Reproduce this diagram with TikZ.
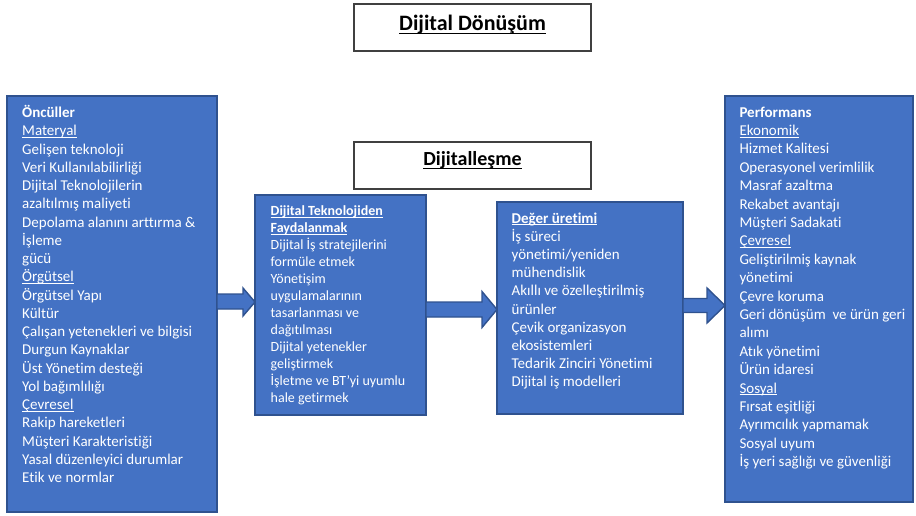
\documentclass[tikz,border=0pt]{standalone}
\usepackage{fontspec}
\setmainfont{Carlito}[Ligatures=NoCommon]
\newsavebox\ulbox
\newcommand\myul[1]{\sbox\ulbox{#1}\rlap{\rule[-0.13em]{\wd\ulbox}{0.055em}}\usebox\ulbox}
\definecolor{boxblue}{HTML}{4472C4}
\definecolor{boxline}{HTML}{2F528F}
\begin{document}
\begin{tikzpicture}[x=1pt,y=-1pt,
  bluebox/.style={draw=boxline,fill=boxblue,line width=1.6pt,outer sep=0pt,inner sep=0pt,anchor=north west},
  titlebox/.style={draw=black!75,fill=white,line width=1.1pt,outer sep=0pt,inner sep=0pt,anchor=north west},
  boxtext/.style={anchor=base west,inner sep=0pt,align=left,text=white},
  titletext/.style={anchor=base,inner sep=0pt,font=\bfseries},
  blockarrow/.style={draw=boxline,fill=boxblue,line width=1.4pt,line join=miter}]
\useasboundingbox (0,0) rectangle (916,516);

% title boxes
\node[titlebox,minimum width=237pt,minimum height=47pt] (ddbox) at (354,4) {};
\node[titletext,font=\fontsize{22}{26}\selectfont\bfseries] (ddtext) at (472.5,31) {\myul{Dijital Dönüşüm}};
\node[titlebox,minimum width=237pt,minimum height=47pt] (dlbox) at (354,142) {};
\node[titletext,font=\fontsize{20}{24}\selectfont\bfseries] (dltext) at (472.5,166) {\myul{Dijitalleşme}};

% blue boxes
\node[bluebox,minimum width=210pt,minimum height=416pt] (pre) at (7,96) {};
\node[bluebox,minimum width=171pt,minimum height=220pt] (fa) at (255,195) {};
\node[bluebox,minimum width=186pt,minimum height=212pt] (dv) at (497,202) {};
\node[bluebox,minimum width=188pt,minimum height=406pt] (perf) at (725,96) {};

% texts (anchored at the baseline of the last line)
\node[boxtext,font=\fontsize{15}{18.26}\selectfont] (pretext) at (22,482.7) {\textbf{Öncüller}\\
\myul{Materyal}\\
Gelişen teknoloji\\
Veri Kullanılabilirliği\\
Dijital Teknolojilerin\\
azaltılmış maliyeti\\
Depolama alanını arttırma \&\\
İşleme\\
gücü\\
\myul{Örgütsel}\\
Örgütsel Yapı\\
Kültür\\
Çalışan yetenekleri ve bilgisi\\
Durgun Kaynaklar\\
Üst Yönetim desteği\\
Yol bağımlılığı\\
\myul{Çevresel}\\
Rakip hareketleri\\
Müşteri Karakteristiği\\
Yasal düzenleyici durumlar\\
Etik ve normlar};

\node[boxtext,font=\fontsize{14}{17}\selectfont] (fatext) at (270.5,402.7) {\textbf{\myul{Dijital Teknolojiden}}\\
\textbf{\myul{Faydalanmak}}\\
Dijital İş stratejilerini\\
formüle etmek\\
Yönetişim\\
uygulamalarının\\
tasarlanması ve\\
dağıtılması\\
Dijital yetenekler\\
geliştirmek\\
İşletme ve BT'yi uyumlu\\
hale getirmek};

\node[boxtext,font=\fontsize{15}{18.15}\selectfont] (dvtext) at (511.5,386.7) {\textbf{\myul{Değer üretimi}}\\
İş süreci\\
yönetimi/yeniden\\
mühendislik\\
Akıllı ve özelleştirilmiş\\
ürünler\\
Çevik organizasyon\\
ekosistemleri\\
Tedarik Zinciri Yönetimi\\
Dijital iş modelleri};

\node[boxtext,font=\fontsize{15}{18.4}\selectfont] (perftext) at (739.3,466.7) {\textbf{Performans}\\
\myul{Ekonomik}\\
Hizmet Kalitesi\\
Operasyonel verimlilik\\
Masraf azaltma\\
Rekabet avantajı\\
Müşteri Sadakati\\
\myul{Çevresel}\\
Geliştirilmiş kaynak\\
yönetimi\\
Çevre koruma\\
Geri dönüşüm\ \ ve ürün geri\\
alımı\\
Atık yönetimi\\
Ürün idaresi\\
\myul{Sosyal}\\
Fırsat eşitliği\\
Ayrımcılık yapmamak\\
Sosyal uyum\\
İş yeri sağlığı ve güvenliği};

% block arrows
\draw[blockarrow] (pre.east |- 0,294) -- (243,294) -- (243,288) -- (fa.west |- 0,302)
  -- (243,316) -- (243,309) -- (pre.east |- 0,309) -- cycle;
\draw[blockarrow] (fa.east |- 0,302) -- (482,302) -- (482,291.5) -- (dv.west |- 0,309.5)
  -- (482,327.5) -- (482,317) -- (fa.east |- 0,317) -- cycle;
\draw[blockarrow] (dv.east |- 0,298.5) -- (707,298.5) -- (707,288) -- (perf.west |- 0,305.5)
  -- (707,323) -- (707,312.5) -- (dv.east |- 0,312.5) -- cycle;
\end{tikzpicture}
\end{document}
